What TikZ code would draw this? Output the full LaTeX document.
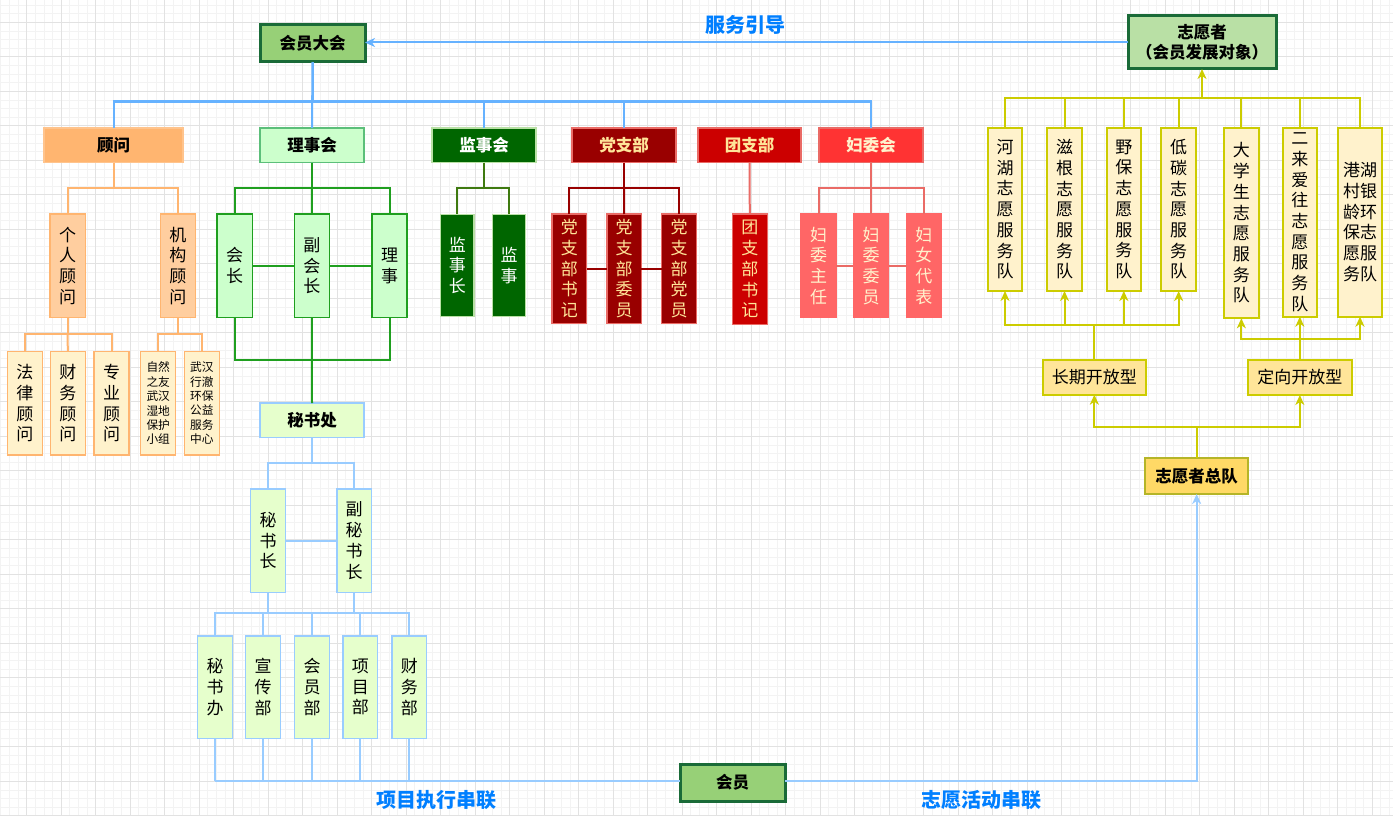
\documentclass[tikz,border=0pt]{standalone}
\usepackage{fontspec}
\setmainfont{Noto Sans CJK SC}
\usetikzlibrary{arrows.meta}
\definecolor{lblue}{HTML}{007FFF}
\definecolor{blueln}{HTML}{66B2FF}
\definecolor{lbln}{HTML}{99CCFF}
\definecolor{orng}{HTML}{FFB570}
\definecolor{orngL}{HTML}{FFCE9F}
\definecolor{ylwL}{HTML}{FFF2CC}
\definecolor{grnLn}{HTML}{1F9F1F}
\definecolor{grnF}{HTML}{CCFFCC}
\definecolor{grnB}{HTML}{5CBF7A}
\definecolor{dkgrn}{HTML}{006600}
\definecolor{ltgrnB}{HTML}{B9E0A5}
\definecolor{olv}{HTML}{3F7A10}
\definecolor{dred}{HTML}{990000}
\definecolor{rd}{HTML}{CC0000}
\definecolor{redB}{HTML}{EA6B66}
\definecolor{rd3}{HTML}{FF3333}
\definecolor{pinkF}{HTML}{FF6666}
\definecolor{txtY}{HTML}{FFE599}
\definecolor{txtY2}{HTML}{FFF2CC}
\definecolor{memF}{HTML}{97D077}
\definecolor{memB}{HTML}{1A6B38}
\definecolor{zyF}{HTML}{B9E0A5}
\definecolor{yl}{HTML}{CCCC00}
\definecolor{yF}{HTML}{FFE599}
\definecolor{zdF}{HTML}{FFD966}
\definecolor{zdB}{HTML}{B5B528}
\definecolor{mssF}{HTML}{E6FFCC}
\definecolor{gridMaj}{HTML}{E2E2E2}
\definecolor{gridMin}{HTML}{F3F3F3}
\newcommand\bx[7]{\node[#6, minimum width={#4pt-#2pt}, minimum height={#5pt-#3pt}] (#1) at ({(#2+#4)/2},{(#3+#5)/2}) {#7};}
\begin{document}
\begin{tikzpicture}[x=1pt,y=-1pt,
  bx/.style={draw, line width=1.5pt, inner sep=0pt, outer sep=0pt, align=center},
  ttl/.style={font=\bfseries\fontsize{16.5}{20}\selectfont},
  vt/.style={font=\fontsize{17}{20.7}\selectfont},
  vs/.style={font=\fontsize{11.7}{14.4}\selectfont},
  ln/.style={line width=2pt},
  arr/.style={-{Stealth[length=10pt,width=9pt,inset=3pt]}},
  lbl/.style={font=\bfseries\fontsize{20}{24}\selectfont, text=lblue},
  mem/.style={bx, line width=3pt, draw=memB, fill=memF, ttl}]
\useasboundingbox (0,0) rectangle (1393,816);
\fill[white] (0,0) rectangle (1393,816);
% grid
\foreach \i in {0,...,161} {\draw[gridMin, line width=0.8pt] ({0.825+8.625*\i},0) -- ({0.825+8.625*\i},816);}
\foreach \i in {0,...,94} {\draw[gridMin, line width=0.8pt] (0,{5.05+8.625*\i}) -- (1393,{5.05+8.625*\i});}
\foreach \i in {0,...,40} {\draw[gridMaj, line width=0.9pt] ({26.7+34.5*\i},0) -- ({26.7+34.5*\i},816);}
\foreach \i in {0,...,23} {\draw[gridMaj, line width=0.9pt] (0,{22.3+34.5*\i}) -- (1393,{22.3+34.5*\i});}

% main nodes
\bx{hy}{260}{25}{365}{62}{mem}{会员大会}
\bx{zy}{1128}{16}{1276}{69}{mem, fill=zyF}{志愿者\\（会员发展对象）}
\bx{hyb}{680}{764}{785}{801}{mem}{会员}

% row 1
\bx{gw}{44}{128}{183}{162.5}{bx, draw=orng!80!white, fill=orng, ttl}{顾问}
\bx{lsh}{260}{128}{364}{162.5}{bx, draw=grnB, fill=grnF, ttl}{理事会}
\bx{jsh}{432}{128}{536}{162.5}{bx, draw=ltgrnB, fill=dkgrn, ttl, text=white}{监事会}
\bx{dzb}{572}{128}{676}{162.5}{bx, draw=redB, fill=dred, ttl, text=txtY}{党支部}
\bx{tzb}{698}{128}{801}{162.5}{bx, draw=redB, fill=rd, ttl, text=txtY}{团支部}
\bx{fwh}{819}{128}{923}{162.5}{bx, draw=redB, fill=rd3, ttl, text=txtY2}{妇委会}

% guwen subtree
\bx{grgw}{50}{214}{85.3}{317.3}{bx, draw=orng, fill=orngL, vt}{个\\人\\顾\\问}
\bx{jggw}{160.3}{214}{195.3}{317.3}{bx, draw=orng, fill=orngL, vt}{机\\构\\顾\\问}
\bx{fl}{7.3}{351.7}{42.3}{455}{bx, draw=orng, fill=ylwL, vt}{法\\律\\顾\\问}
\bx{cw}{50.3}{351.7}{85.3}{455}{bx, draw=orng, fill=ylwL, vt}{财\\务\\顾\\问}
\bx{zygw}{94}{351.7}{129}{455}{bx, draw=orng, fill=ylwL, vt}{专\\业\\顾\\问}
\bx{zr}{140.7}{351.7}{175.7}{455}{bx, draw=orng, fill=ylwL, vs}{自然\\之友\\武汉\\湿地\\保护\\小组}
\bx{wh}{184.3}{351.7}{219.3}{455}{bx, draw=orng, fill=ylwL, vs}{武汉\\行澈\\环保\\公益\\服务\\中心}

% lishihui subtree
\bx{hz}{217}{214}{252.3}{317.3}{bx, draw=grnLn, fill=grnF, vt}{会\\长}
\bx{fhz}{294.3}{214}{329.3}{317.3}{bx, draw=grnLn, fill=grnF, vt}{副\\会\\长}
\bx{ls}{372}{214}{407}{317.3}{bx, draw=grnLn, fill=grnF, vt}{理\\事}
\bx{mss}{260}{403}{364}{437.7}{bx, draw=lbln, fill=mssF, ttl}{秘书处}

% jianshihui
\bx{jsz}{440.7}{214.3}{474}{316.7}{bx, draw=ltgrnB, fill=dkgrn, vt, text=white}{监\\事\\长}
\bx{js}{492.3}{214.3}{525.7}{316.7}{bx, draw=ltgrnB, fill=dkgrn, vt, text=white}{监\\事}

% dangzhibu
\bx{dsj}{552}{214}{586.7}{323.3}{bx, draw=redB, fill=dred, vt, text=txtY}{党\\支\\部\\书\\记}
\bx{dwy}{607}{214}{641.3}{323.3}{bx, draw=redB, fill=dred, vt, text=txtY}{党\\支\\部\\委\\员}
\bx{ddy}{661.7}{214}{696.3}{323.3}{bx, draw=redB, fill=dred, vt, text=txtY}{党\\支\\部\\党\\员}
\bx{tsj}{732.3}{214}{767.3}{324.3}{bx, draw=redB, fill=rd, vt, text=txtY}{团\\支\\部\\书\\记}

% fuweihui
\bx{fzr}{801}{214}{836.3}{317.3}{bx, draw=pinkF, fill=pinkF, vt, text=txtY2}{妇\\委\\主\\任}
\bx{fwy}{853.3}{214}{888.7}{317.3}{bx, draw=pinkF, fill=pinkF, vt, text=txtY2}{妇\\委\\委\\员}
\bx{fdb}{906.7}{214}{941}{317.3}{bx, draw=pinkF, fill=pinkF, vt, text=txtY2}{妇\\女\\代\\表}

% mishuchu subtree
\bx{msz}{250.7}{489}{285.7}{592.3}{bx, draw=lbln, fill=mssF, vt}{秘\\书\\长}
\bx{fmsz}{337}{489}{371.3}{592.3}{bx, draw=lbln, fill=mssF, vt}{副\\秘\\书\\长}
\bx{msb}{197.7}{636}{232.3}{738.3}{bx, draw=lbln, fill=mssF, vt}{秘\\书\\办}
\bx{xcb}{245.7}{636}{280.3}{738.3}{bx, draw=lbln, fill=mssF, vt}{宣\\传\\部}
\bx{hyd}{294.7}{636}{329.3}{738.3}{bx, draw=lbln, fill=mssF, vt}{会\\员\\部}
\bx{xmb}{343}{636}{377.7}{738.3}{bx, draw=lbln, fill=mssF, vt}{项\\目\\部}
\bx{cwb}{392}{636}{426.7}{738.3}{bx, draw=lbln, fill=mssF, vt}{财\\务\\部}

% volunteer teams
\bx{t1}{987.7}{127.7}{1022.3}{291}{bx, line width=2pt, draw=yl, fill=ylwL, vt}{河\\湖\\志\\愿\\服\\务\\队}
\bx{t2}{1047}{127.7}{1082}{291}{bx, line width=2pt, draw=yl, fill=ylwL, vt}{滋\\根\\志\\愿\\服\\务\\队}
\bx{t3}{1106.7}{127.7}{1141}{291}{bx, line width=2pt, draw=yl, fill=ylwL, vt}{野\\保\\志\\愿\\服\\务\\队}
\bx{t4}{1161.3}{127.7}{1196}{291}{bx, line width=2pt, draw=yl, fill=ylwL, vt}{低\\碳\\志\\愿\\服\\务\\队}
\bx{t5}{1224}{127.7}{1258.7}{318.3}{bx, line width=2pt, draw=yl, fill=ylwL, vt}{大\\学\\生\\志\\愿\\服\\务\\队}
\bx{t6}{1282.7}{127.7}{1317}{316.7}{bx, line width=2pt, draw=yl, fill=ylwL, vt}{二\\来\\爱\\往\\志\\愿\\服\\务\\队}
\bx{t7}{1338.3}{127.7}{1381.7}{316.7}{bx, line width=2pt, draw=yl, fill=ylwL, vt}{港湖\\村银\\龄环\\保志\\愿服\\务队}
\bx{cq}{1042.7}{360}{1146}{394.7}{bx, line width=2pt, draw=yl, fill=yF, font=\fontsize{17}{20}\selectfont}{长期开放型}
\bx{dx}{1248}{360}{1351.7}{395}{bx, line width=2pt, draw=yl, fill=yF, font=\fontsize{17}{20}\selectfont}{定向开放型}
\bx{zd}{1145}{458.3}{1248.3}{494}{bx, line width=2pt, draw=zdB, fill=zdF, ttl}{志愿者总队}

% labels
\node[lbl] (l1) at (745,25) {服务引导};
\node[lbl] (l2) at (436,800) {项目执行串联};
\node[lbl] (l3) at (981,800) {志愿活动串联};

% connectors: top
\draw[ln, blueln, arr] (zy.west) -- (zy.west -| hy.east);
\draw[ln, blueln] (hy.south) -- ++(0,39.5) coordinate (bj);
\draw[ln, blueln] (bj) -| (gw.north);
\draw[ln, blueln] (hy.south) -- (lsh.north);
\draw[ln, blueln] (bj) -| (jsh.north);
\draw[ln, blueln] (bj) -| (dzb.north);
\draw[ln, blueln] (bj) -| (fwh.north);

% guwen
\draw[ln, orng] (gw.south) -- ++(0,25.6) coordinate (gj);
\draw[ln, orng] (gj) -| (grgw.north);
\draw[ln, orng] (gj) -| (jggw.north);
\draw[ln, orng] (grgw.south) -- ++(0,17) coordinate (gj2);
\draw[ln, orng] (gj2) -| (fl.north);
\draw[ln, orng] (gj2) -- (cw.north);
\draw[ln, orng] (gj2) -| (zygw.north);
\draw[ln, orng] (jggw.south) -- ++(0,17) coordinate (gj3);
\draw[ln, orng] (gj3) -| (zr.north);
\draw[ln, orng] (gj3) -| (wh.north);

% lishihui
\draw[ln, grnLn] (lsh.south) -- ++(0,25.6) coordinate (lj);
\draw[ln, grnLn] (lj) -| (hz.north);
\draw[ln, grnLn] (lj) -- (fhz.north);
\draw[ln, grnLn] (lj) -| (ls.north);
\draw[ln, grnLn] (hz.east) -- (fhz.west);
\draw[ln, grnLn] (fhz.east) -- (ls.west);
\draw[ln, grnLn] (hz.south) -- ++(0,42.7) -| (ls.south);
\draw[ln, grnLn] (fhz.south) -- (mss.north);

% jianshihui
\draw[ln, olv] (jsh.south) -- ++(0,25.8) coordinate (jj);
\draw[ln, olv] (jj) -| (jsz.north);
\draw[ln, olv] (jj) -| (js.north);

% dangzhibu
\draw[ln, dred] (dzb.south) -- ++(0,25.8) coordinate (dj);
\draw[ln, dred] (dj) -| (dsj.north);
\draw[ln, dred] (dj) -- (dwy.north);
\draw[ln, dred] (dj) -| (ddy.north);
\draw[ln, dred] (dsj.east) -- (dwy.west);
\draw[ln, dred] (dwy.east) -- (ddy.west);

% tuanzhibu
\draw[ln, redB] (tzb.south) -- (tsj.north);

% fuweihui
\draw[ln, redB] (fwh.south) -- ++(0,25.8) coordinate (fj);
\draw[ln, redB] (fj) -| (fzr.north);
\draw[ln, redB] (fj) -- (fwy.north);
\draw[ln, redB] (fj) -| (fdb.north);
\draw[ln, redB] (fzr.east) -- (fwy.west);
\draw[ln, redB] (fwy.east) -- (fdb.west);

% mishuchu
\draw[ln, lbln] (mss.south) -- ++(0,25) coordinate (mj);
\draw[ln, lbln] (mj) -| (msz.north);
\draw[ln, lbln] (mj) -| (fmsz.north);
\draw[ln, lbln] (msz.east) -- (fmsz.west);
\draw[ln, lbln] (msz.south) -- ++(0,21) coordinate (mj2);
\draw[ln, lbln] (fmsz.south) -- (fmsz.south |- mj2);
\draw[ln, lbln] (mj2) -| (msb.north);
\draw[ln, lbln] (mj2) -| (xcb.north);
\draw[ln, lbln] (mj2) -| (hyd.north);
\draw[ln, lbln] (mj2) -| (xmb.north);
\draw[ln, lbln] (mj2) -| (cwb.north);
\draw[ln, lbln] (msb.south) -- ++(0,42.7) coordinate (bb);
\draw[ln, lbln] (bb) -- (bb -| hyb.west);
\draw[ln, lbln] (xcb.south) -- (xcb.south |- bb);
\draw[ln, lbln] (hyd.south) -- (hyd.south |- bb);
\draw[ln, lbln] (xmb.south) -- (xmb.south |- bb);
\draw[ln, lbln] (cwb.south) -- (cwb.south |- bb);
\draw[ln, lbln, arr] (bb -| hyb.east) -| (zd.south);

% volunteers
\coordinate (yj) at (zy.south |- 0,97.7);
\draw[ln, yl, arr] (yj) -- (zy.south);
\draw[ln, yl] (t1.north) |- (yj) -| (t7.north);
\draw[ln, yl] (t2.north) -- (t2.north |- yj);
\draw[ln, yl] (t3.north) -- (t3.north |- yj);
\draw[ln, yl] (t4.north) -- (t4.north |- yj);
\draw[ln, yl] (t5.north) -- (t5.north |- yj);
\draw[ln, yl] (t6.north) -- (t6.north |- yj);
\draw[ln, yl] (cq.north) -- ++(0,-35) coordinate (cj);
\draw[ln, yl, arr] (cj) -| (t1.south);
\draw[ln, yl, arr] (cj) -| (t2.south);
\draw[ln, yl, arr] (cj) -| (t3.south);
\draw[ln, yl, arr] (cj) -| (t4.south);
\coordinate (dj2) at (dx.north |- 0,339);
\draw[ln, yl, arr] (dx.north) -- (t6.south);
\draw[ln, yl, arr] (dj2) -| (t5.south);
\draw[ln, yl, arr] (dj2) -| (t7.south);
\draw[ln, yl] (zd.north) -- ++(0,-31.3) coordinate (zj);
\draw[ln, yl, arr] (zj) -| (cq.south);
\draw[ln, yl, arr] (zj) -| (dx.south);
\end{tikzpicture}
\end{document}
